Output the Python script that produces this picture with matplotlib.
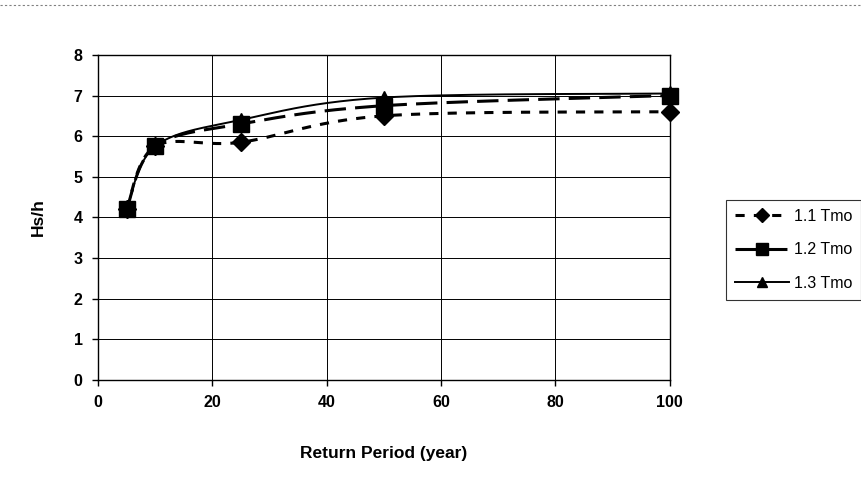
import numpy as np
import matplotlib.pyplot as plt

plt.rcParams['font.family'] = ['Liberation Sans', 'DejaVu Sans']

# return period (year)
periodo = [5, 10, 25, 50, 100]
# Hs/h for each Tmo factor
hs_11 = [4.2, 5.75, 5.85, 6.5, 6.6]
hs_12 = [4.2, 5.75, 6.3, 6.75, 7.0]
hs_13 = [4.2, 5.75, 6.4, 6.95, 7.05]
nomes = ['1.1 Tmo', '1.2 Tmo', '1.3 Tmo']


def suavizar(x, y, n=40):
    """Curva suavizada estilo Excel (Bezier tipo Catmull-Rom)."""
    p = np.column_stack([x, y]).astype(float)
    p = np.vstack([p[0], p, p[-1]])
    pts = []
    t = np.linspace(0, 1, n)[:, None]
    for i in range(1, len(p) - 2):
        p0, p1, p2, p3 = p[i - 1], p[i], p[i + 1], p[i + 2]
        c1 = p1 + (p2 - p0) / 6
        c2 = p2 - (p3 - p1) / 6
        seg = ((1 - t) ** 3) * p1 + 3 * ((1 - t) ** 2) * t * c1 + 3 * (1 - t) * t ** 2 * c2 + t ** 3 * p2
        pts.append(seg)
    pts = np.vstack(pts)
    return pts[:, 0], pts[:, 1]


fig = plt.figure(figsize=(8.62, 4.9), dpi=100)
ax = fig.add_axes([0.1137, 0.2245, 0.6633, 0.6635])

estilos = [
    dict(ls=(0, (3, 3)), lw=2.2, marker='D', ms=9),
    dict(ls=(0, (7, 3)), lw=2.2, marker='s', ms=11),
    dict(ls='-', lw=1.4, marker='^', ms=10),
]
series = [hs_11, hs_12, hs_13]
handles = []
for serie, nome, est, z in zip(series, nomes, estilos, [4, 5, 3]):
    xs, ys = suavizar(periodo, serie)
    ax.plot(xs, ys, color='black', ls=est['ls'], lw=est['lw'], zorder=z)
    ax.plot(periodo, serie, ls='none', marker=est['marker'], ms=est['ms'],
            color='black', zorder=z + 3, clip_on=False)
    h, = ax.plot([], [], color='black', ls=est['ls'], lw=est['lw'],
                 marker=est['marker'], ms=est['ms'] * 0.75, label=nome)
    handles.append(h)

ax.set_xlim(0, 100)
ax.set_ylim(0, 8)
ax.set_xticks(range(0, 101, 20))
ax.set_yticks(range(0, 9))
ax.grid(True, color='black', lw=0.7)
for s in ax.spines.values():
    s.set_color('black')
    s.set_linewidth(1.0)
ax.tick_params(direction='out', length=4, width=1, labelsize=11.5, pad=7)
for lb in ax.get_xticklabels() + ax.get_yticklabels():
    lb.set_fontweight('bold')

ax.set_xlabel('Return Period (year)', fontsize=12.5, fontweight='bold', labelpad=26)
ax.set_ylabel('Hs/h', fontsize=12.5, fontweight='bold', labelpad=20)

leg = fig.legend(handles=handles, loc='center left', bbox_to_anchor=(0.842, 0.49),
                 frameon=True, fancybox=False, edgecolor='black', fontsize=11.5,
                 handlelength=3.4, labelspacing=1.15, borderpad=0.55, handletextpad=0.3,
                 borderaxespad=0)
leg.get_frame().set_linewidth(0.8)

# borda externa do grafico
fig.add_artist(plt.Line2D([0.0, 1.0], [0.99, 0.99], transform=fig.transFigure,
                          color='gray', lw=0.8, ls=(0, (2, 2))))

fig.savefig('out.png', dpi=100, facecolor='white')
